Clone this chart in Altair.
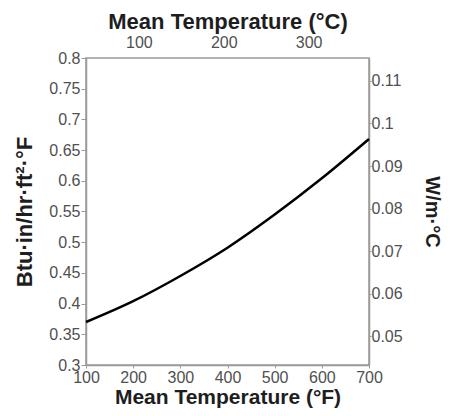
import altair as alt
import pandas as pd

# Data
temp_f = [100, 200, 300, 400, 500, 600, 700]
k_btu = [0.370, 0.404, 0.445, 0.491, 0.545, 0.604, 0.668]

left_ticks = [0.3, 0.35, 0.4, 0.45, 0.5, 0.55, 0.6, 0.65, 0.7, 0.75, 0.8]
bottom_ticks = [100, 200, 300, 400, 500, 600, 700]
top_ticks = [100, 200, 300]
right_ticks = [0.05, 0.06, 0.07, 0.08, 0.09, 0.10, 0.11]

CONV = 0.144228  # Btu·in/hr·ft²·°F -> W/m·°C

df = pd.DataFrame({"F": temp_f, "k": k_btu})

FONT = "Liberation Sans"
LABEL_COLOR = "#505050"
TITLE_COLOR = "#1e1e1e"
AXIS_COLOR = "#9a9a9a"

W, H = 283, 307

base = alt.Chart(df)

line = base.mark_line(color="black", strokeWidth=2.5, interpolate="monotone").encode(
    x=alt.X(
        "F:Q",
        scale=alt.Scale(domain=[100, 700], nice=False, zero=False),
        axis=alt.Axis(
            orient="bottom", values=bottom_ticks, grid=False,
            title="Mean Temperature (°F)", titleX=W / 2, titleY=32,
            titleBaseline="middle", titleAnchor="middle",
            titleFontSize=21,
            tickSize=3, labelPadding=1, labelFlush=False,
        ),
    ),
    y=alt.Y(
        "k:Q",
        scale=alt.Scale(domain=[0.3, 0.8], nice=False, zero=False),
        axis=alt.Axis(
            orient="left", values=left_ticks, format=".2~f", grid=False,
            title="Btu·in/hr·ft²·°F", titleX=-62, titleY=H / 2,
            titleBaseline="middle", titleAnchor="middle", titleAngle=-90,
            tickSize=5, labelPadding=1, labelFlush=False,
        ),
    ),
)

ghost = base.transform_calculate(
    C="(datum.F - 32) / 1.8", kw=f"datum.k * {CONV}"
).mark_point(opacity=0).encode(
    x=alt.X(
        "C:Q",
        scale=alt.Scale(domain=[(100 - 32) / 1.8, (700 - 32) / 1.8], nice=False, zero=False),
        axis=alt.Axis(
            orient="top", values=top_ticks, grid=False, domain=False,
            title="Mean Temperature (°C)", titleX=W / 2, titleY=-37,
            titleBaseline="middle", titleAnchor="middle",
            titleFontSize=22,
            tickSize=0, labelPadding=8, labelFlush=False,
        ),
    ),
    y=alt.Y(
        "kw:Q",
        scale=alt.Scale(domain=[0.3 * CONV, 0.8 * CONV], nice=False, zero=False),
        axis=alt.Axis(
            orient="right", values=right_ticks, format=".2~f", grid=False,
            title="W/m·°C", titleX=62, titleY=H / 2,
            titleBaseline="middle", titleAnchor="middle", titleAngle=90,
            titleFontSize=20,
            tickSize=2, labelPadding=0, labelFlush=False,
        ),
    ),
)

chart = (
    alt.layer(line, ghost)
    .resolve_scale(x="independent", y="independent")
    .properties(
        width=W, height=H,
        autosize=alt.AutoSizeParams(type="none"),
        padding={"left": 78, "top": 50, "right": 73, "bottom": 43},
        background="white",
    )
    .configure_view(stroke=AXIS_COLOR, strokeWidth=1.5)
    .configure_axis(
        labelFont=FONT, labelFontSize=16, labelColor=LABEL_COLOR,
        titleFont=FONT, titleFontSize=22, titleFontWeight="bold", titleColor=TITLE_COLOR,
        domainColor=AXIS_COLOR, domainWidth=1.5, tickColor=AXIS_COLOR,
    )
)

chart.save("out.html", embed_options={"renderer": "svg", "actions": False})
